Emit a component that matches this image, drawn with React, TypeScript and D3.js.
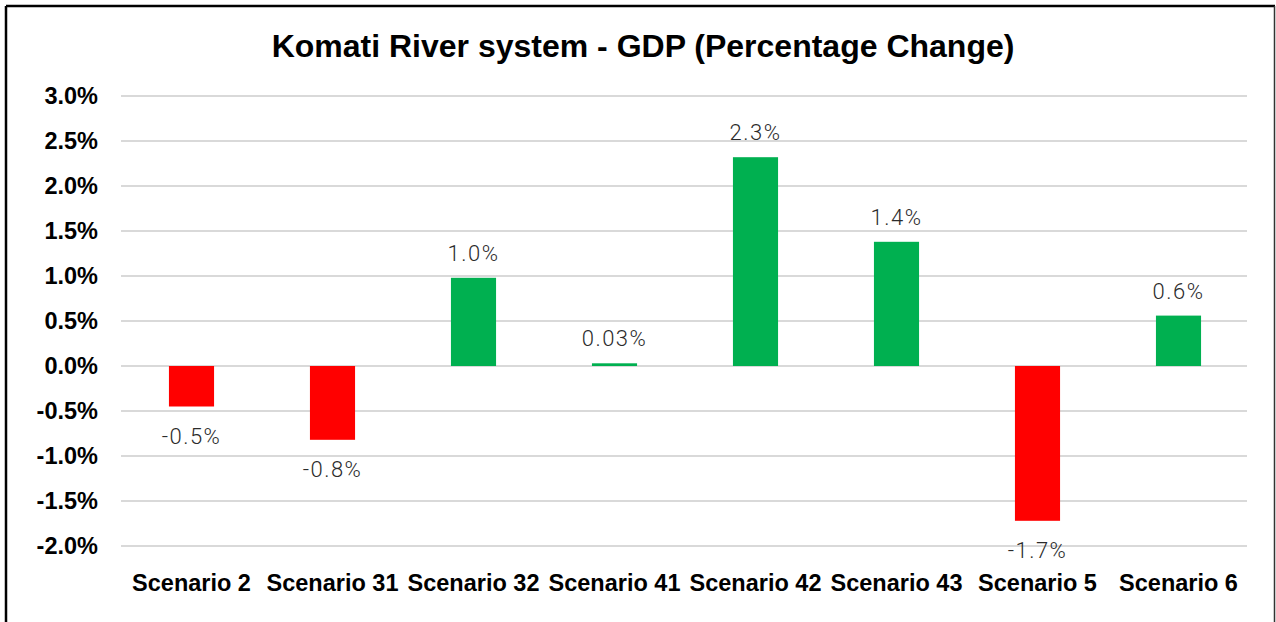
import React from "react";
import * as d3 from "d3";

const categories = ["Scenario 2", "Scenario 31", "Scenario 32", "Scenario 41", "Scenario 42", "Scenario 43", "Scenario 5", "Scenario 6"];
const values = [-0.45, -0.82, 0.98, 0.03, 2.32, 1.38, -1.72, 0.56];
const labels = ["-0.5%", "-0.8%", "1.0%", "0.03%", "2.3%", "1.4%", "-1.7%", "0.6%"];
const yTicks = [3.0, 2.5, 2.0, 1.5, 1.0, 0.5, 0.0, -0.5, -1.0, -1.5, -2.0];

export default function App() {
  const W = 1276, H = 622;
  const x = d3.scaleBand<string>().domain(categories).range([121, 1249]).paddingInner(0.68).paddingOuter(0.34);
  const y = d3.scaleLinear().domain([-2, 3]).range([546, 96]);
  const font = "Liberation Sans, Arial, sans-serif";
  return (
    <svg width={W} height={H} style={{ position: "absolute", left: 0, top: 0 }}>
      <rect x={0} y={0} width={W} height={H} fill="#fff" />
      <line x1={6} y1={6} x2={1275} y2={6} stroke="#000" strokeWidth={2.5} />
      <line x1={6} y1={6} x2={6} y2={H} stroke="#000" strokeWidth={2.5} />
      <line x1={1274.5} y1={6} x2={1274.5} y2={H} stroke="#333" strokeWidth={1.5} />
      <text x={643} y={57} textAnchor="middle" fontFamily={font} fontWeight="bold" fontSize={32} fill="#000">
        Komati River system - GDP (Percentage Change)
      </text>
      {yTicks.map((t) => (
        <g key={t}>
          <line x1={121} x2={1247} y1={y(t)} y2={y(t)} stroke="#d9d9d9" strokeWidth={2} />
          <text x={98} y={y(t)} dy="0.36em" textAnchor="end" fontFamily={font} fontWeight="bold" fontSize={23.5} fill="#000">
            {t.toFixed(1) + "%"}
          </text>
        </g>
      ))}
      {categories.map((c, i) => {
        const v = values[i];
        const x0 = x(c)!;
        const bw = x.bandwidth();
        const top = y(Math.max(0, v));
        const h = Math.abs(y(v) - y(0));
        const cx = x0 + bw / 2;
        const ly = v >= 0 ? y(v) - 17 : y(v) + 37;
        return (
          <g key={c}>
            <rect x={x0} y={top} width={bw} height={Math.max(h, 1)} fill={v >= 0 ? "#00b050" : "#ff0000"} />
            <text x={cx} y={ly} textAnchor="middle" fontFamily="Roboto, sans-serif" fontWeight={300} fontSize={22} letterSpacing={1.5} fill="#2b2b2b">
              {labels[i]}
            </text>
            <text x={cx} y={591} textAnchor="middle" fontFamily={font} fontWeight="bold" fontSize={23.5} fill="#000">
              {c}
            </text>
          </g>
        );
      })}
    </svg>
  );
}
